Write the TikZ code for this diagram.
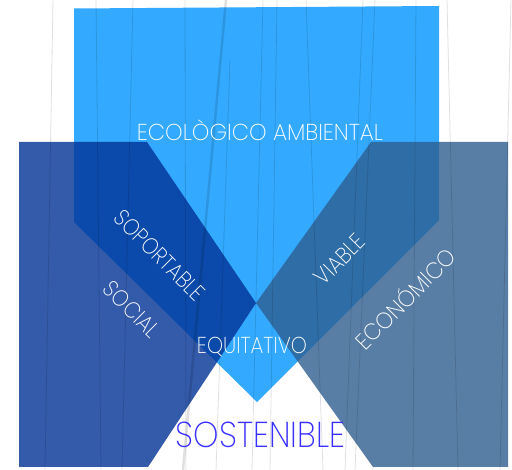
\documentclass[tikz,border=0pt]{standalone}
\usepackage{fontspec}
\usepackage{graphicx}
\newfontfamily\lite{Poppins ExtraLight}
\definecolor{topc}{RGB}{51,170,255}
\definecolor{leftc}{RGB}{1,51,149}
\definecolor{rightc}{RGB}{47,94,144}
\definecolor{sostc}{RGB}{58,48,255}
\newcommand{\fitw}[2]{\resizebox{#1pt}{\height}{#2}}
\tikzset{
  lbl/.style={inner sep=0pt, text=white, font=\lite\fontsize{23}{23}\selectfont},
  bgline/.style={draw=black, draw opacity=0.12, line width=0.8pt},
}
\begin{document}
\begin{tikzpicture}[x=1pt,y=-1pt]
\useasboundingbox (0,0) rectangle (512,470);
\fill[white] (0,0) rectangle (512,470);
% top shape
\fill[topc] (74,8.5) -- (439,6) -- (439,220) -- (257,402) -- (74,222) -- cycle;
% left shape
\fill[leftc, fill opacity=0.8] (19,142) -- (147,142) -- (256,303) -- (148,467) -- (19,467) -- cycle;
% right shape
\fill[rightc, fill opacity=0.8] (371,142) -- (508,142) -- (508,467) -- (373,467) -- (256,303) -- cycle;
% background lines
\draw[bgline] (53,0) -- (45,470);
\draw[bgline] (96,0) -- (101,470);
\draw[bgline] (133,0) -- (122,470);
\draw[bgline] (185,0) -- (186,470);
\draw[bgline, line width=2.5pt, draw opacity=0.12] (226,0) -- (183,470);
\draw[bgline] (230,60) -- (216,470);
\draw[bgline] (263,0) -- (252,470);
\draw[bgline] (277,0) -- (270,470);
\draw[bgline] (306,0) -- (323,470);
\draw[bgline] (363,0) -- (345,470);
\draw[bgline] (375,0) -- (355,470);
\draw[bgline] (416,0) -- (413,470);
\draw[bgline] (447,0) -- (458,470);
\draw[bgline] (511,0) -- (500,470);
% texts
\node[lbl, anchor=base] (eco) at (260,141) {\fitw{246}{ECOLÒGICO AMBIENTAL}};
\node[lbl, anchor=base] (equ) at (252,354) {\fitw{110}{EQUITATIVO}};
\node[lbl, anchor=base, text=sostc, font=\lite\fontsize{36}{36}\selectfont] (sos) at (260.5,448) {\fitw{169}{SOSTENIBLE}};
\node[lbl, anchor=base, rotate=-45] (sop) at (154,261) {\fitw{117}{SOPORTABLE}};
\node[lbl, anchor=base, rotate=-45] (soc) at (126,315) {\fitw{68}{SOCIAL}};
\node[lbl, anchor=base, rotate=45] (via) at (345.5,265) {\fitw{61}{VIABLE}};
\node[lbl, anchor=base, rotate=45] (econ) at (411.5,305) {\fitw{131}{ECONÓMICO}};
\end{tikzpicture}
\end{document}
